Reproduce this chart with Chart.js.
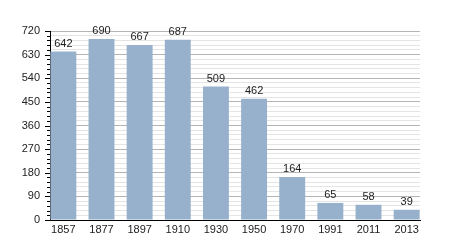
<!DOCTYPE html>
<html><head><meta charset="utf-8">
<script src="https://cdn.jsdelivr.net/npm/chart.js@4/dist/chart.umd.min.js"></script>
<style>html,body{margin:0;padding:0;background:#fff}#w{width:450px;height:250px}</style>
</head><body><div id="w"><canvas id="c" width="450" height="250"></canvas></div>
<script>
const categories = ["1857","1877","1897","1910","1930","1950","1970","1991","2011","2013"];
const population = [642,690,667,687,509,462,164,65,58,39];
const yMajorTicks = [0,90,180,270,360,450,540,630,720];

const FONT = {family:"'Liberation Sans', Arial, sans-serif", size:11};

const labelPlugin = {
  id:'labels',
  afterDatasetsDraw(chart){
    const ctx = chart.ctx;
    const meta = chart.getDatasetMeta(0);
    ctx.save();
    ctx.font = "11px 'Liberation Sans', Arial, sans-serif";
    ctx.fillStyle = '#222';
    ctx.textAlign = 'center';
    ctx.textBaseline = 'bottom';
    meta.data.forEach((el,i)=>{
      ctx.fillText(String(population[i]), el.x, el.y - 2);
    });
    ctx.restore();
  },
  afterDraw(chart){
    const ctx = chart.ctx;
    const y = chart.scales.y;
    const left = chart.chartArea.left;
    ctx.save();
    ctx.strokeStyle = '#000';
    ctx.lineWidth = 1;
    ctx.beginPath();
    for(let v=0; v<=720; v+=18){
      const py = Math.round(y.getPixelForValue(v)) + 0.5;
      const len = (v % 90 === 0) ? 5 : 3;
      ctx.moveTo(left - len, py);
      ctx.lineTo(left, py);
    }
    ctx.stroke();
    ctx.restore();
  }
};

new Chart(document.getElementById('c'), {
  type:'bar',
  data:{
    datasets:[{
      data: population.map((v,i)=>({x:i, y:v})),
      backgroundColor:'#97b1cc',
      borderWidth:0,
      barPercentage:0.68,
      categoryPercentage:1
    }]
  },
  options:{
    responsive:false,
    animation:false,
    events:[],
    layout:{padding:{top:31, right:30, left:0, bottom:0}},
    plugins:{legend:{display:false}, tooltip:{enabled:false}},
    scales:{
      x:{
        type:'linear',
        offset:false,
        min:-0.35, max:9.35,
        afterBuildTicks(s){ s.ticks = categories.map((c,i)=>({value:i})); },
        afterFit(s){ s.height = 30; },
        grid:{display:false, drawTicks:false, offset:false},
        border:{display:true, color:'#000', width:1},
        ticks:{autoSkip:false, maxRotation:0, padding:3, color:'#222', font:FONT,
          callback:(v)=>categories[v]}
      },
      y:{
        min:0, max:720,
        afterBuildTicks(s){ const t=[]; for(let v=0; v<=720; v+=18) t.push({value:v}); s.ticks=t; },
        afterFit(s){ s.width = 50; },
        grid:{drawTicks:false, color:(c)=> (c.tick && c.tick.value % 90 === 0) ? '#b4b4b4' : '#e4e4e4'},
        border:{display:true, color:'#000', width:1},
        ticks:{autoSkip:false, padding:10, color:'#222', font:FONT,
          callback:(v)=> yMajorTicks.includes(v) ? String(v) : ''}
      }
    }
  },
  plugins:[labelPlugin]
});
</script></body></html>
